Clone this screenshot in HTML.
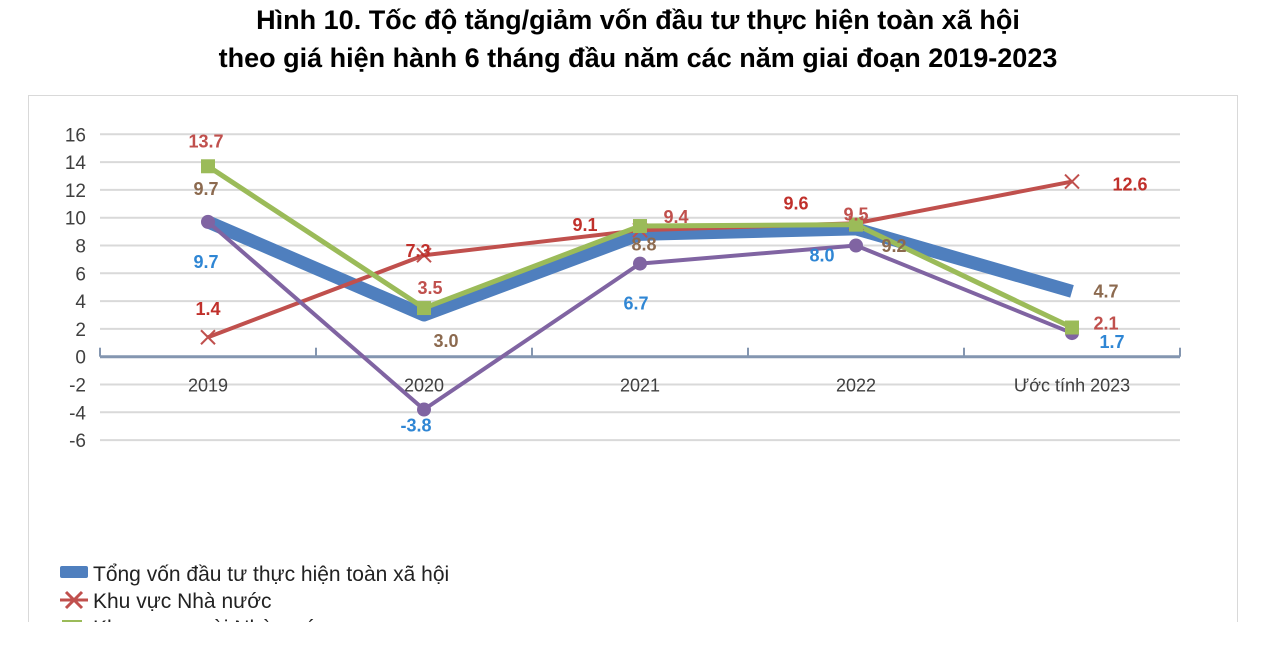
<!DOCTYPE html>
<html><head><meta charset="utf-8">
<style>
html,body{margin:0;padding:0;background:#fff;width:1276px;height:660px;overflow:hidden;font-family:"Liberation Sans",sans-serif;}
.title{position:absolute;left:0;width:1276px;text-align:center;font-weight:bold;font-size:27px;color:#000;}
</style></head><body>
<div class="title" style="top:5px">Hình 10. Tốc độ tăng/giảm vốn đầu tư thực hiện toàn xã hội</div>
<div class="title" style="top:43px">theo giá hiện hành 6 tháng đầu năm các năm giai đoạn 2019-2023</div>
<svg id="chart" width="1276" height="660" style="position:absolute;left:0;top:0" font-family="Liberation Sans, sans-serif"></svg>
<script>
const categories=["2019","2020","2021","2022","Ước tính 2023"];
const totalVals=[9.7,3.0,8.8,9.2,4.7];
const stateVals=[1.4,7.3,9.1,9.6,12.6];
const nonStateVals=[13.7,3.5,9.4,9.5,2.1];
const fdiVals=[9.7,-3.8,6.7,8.0,1.7];
const yTicks=[16,14,12,10,8,6,4,2,0,-2,-4,-6];
const seriesNames=["Tổng vốn đầu tư thực hiện toàn xã hội","Khu vực Nhà nước","Khu vực ngoài Nhà nước"];

const NS="http://www.w3.org/2000/svg";
const svg=document.getElementById('chart');
function el(t,a,p){const e=document.createElementNS(NS,t);for(const k in a)e.setAttribute(k,a[k]);(p||svg).appendChild(e);return e;}
const X0=100,X1=1180,Y0=356.7,PER=13.9;
const band=(X1-X0)/categories.length;
const x=i=>X0+band*(i+0.5);
const y=v=>Y0-v*PER;

const frame=el('rect',{x:28.5,y:95.5,width:1209,height:560,fill:'none',stroke:'#d9d9d9'});



yTicks.forEach(v=>{
  if(v!==0){const g=el('line',{x1:X0,x2:X1,y1:y(v),y2:y(v),stroke:'#d9d9d9','stroke-width':2});
  
  }
  const t=el('text',{x:86,y:y(v)+7,'text-anchor':'end','font-size':19,fill:'#404040'});
  t.textContent=v;
  
  
});
const ax=el('line',{x1:X0,x2:X1,y1:Y0,y2:Y0,stroke:'#8496b0','stroke-width':3});


for(let i=0;i<=categories.length;i++){
  const tk=el('line',{x1:X0+band*i,x2:X0+band*i,y1:Y0-9,y2:Y0,stroke:'#8496b0','stroke-width':2});
  
  
}
categories.forEach((c,i)=>{
  const t=el('text',{x:x(i),y:Y0+35,'text-anchor':'middle','font-size':18,fill:'#404040'});
  t.textContent=c;
  
  
});
function line(vals,color,w,name){
  const p=el('polyline',{points:vals.map((v,i)=>x(i)+','+y(v)).join(' '),fill:'none',stroke:color,'stroke-width':w,'stroke-linejoin':'round'});
  
  
}
line(totalVals,'#4f7fbe',13,'series-total-line');
line(stateVals,'#c0504d',4,'series-state-line');
line(fdiVals,'#8064a2',4,'series-fdi-line');
line(nonStateVals,'#9bbb59',5,'series-nonstate-line');
stateVals.forEach((v,i)=>{const g=el('path',{d:`M${x(i)-7},${y(v)-7}L${x(i)+7},${y(v)+7}M${x(i)-7},${y(v)+7}L${x(i)+7},${y(v)-7}`,stroke:'#c0504d','stroke-width':2});

});
fdiVals.forEach((v,i)=>{const g=el('circle',{cx:x(i),cy:y(v),r:7,fill:'#8064a2'});

});
nonStateVals.forEach((v,i)=>{const g=el('rect',{x:x(i)-7,y:y(v)-7,width:14,height:14,fill:'#9bbb59'});

});

// label offsets [dx,dy] per point
const totalOff=[[-2,-33],[22,26],[4,10],[38,17],[34,0]];
const stateOff=[[0,-28],[-6,-4],[-55,-5],[-60,-20],[58,3]];
const nonStateOff=[[-2,-25],[6,-20],[36,-9],[0,-10],[34,-4]];
const fdiOff=[[-2,40],[-8,16],[-4,40],[-34,10],[40,9]];
function labels(vals,off,color,name){vals.forEach((v,i)=>{
  const t=el('text',{x:x(i)+off[i][0],y:y(v)+off[i][1]+6,'text-anchor':'middle','font-size':18,'font-weight':'bold',fill:color});
  t.textContent=v.toFixed(1);
  
  
});}
labels(totalVals,totalOff,'#8c6a4f','total-value-label');
labels(stateVals,stateOff,'#c0302b','state-value-label');
labels(nonStateVals,nonStateOff,'#c0504d','nonstate-value-label');
labels(fdiVals,fdiOff,'#2f86d4','fdi-value-label');

// legend
const ly=[573,600,627];
const lcol=['#4f7fbe','#c0504d','#9bbb59'];
seriesNames.forEach((n,i)=>{
  if(i===0){const m=el('rect',{x:60,y:ly[i]-7,width:28,height:12,fill:lcol[0],rx:2});}
  if(i===1){const m=el('path',{d:`M60,${ly[i]}H88M66,${ly[i]-8}L82,${ly[i]+8}M66,${ly[i]+8}L82,${ly[i]-8}`,stroke:lcol[1],'stroke-width':3});}
  if(i===2){const m=el('rect',{x:62,y:ly[i]-7,width:20,height:14,fill:lcol[2]});}
  const t=el('text',{x:93,y:ly[i]+8,'font-size':21,fill:'#222'});
  t.textContent=n;
  
  
});
const cover=el('rect',{x:0,y:622,width:1276,height:40,fill:'#fff'});


</script>
</body></html>
